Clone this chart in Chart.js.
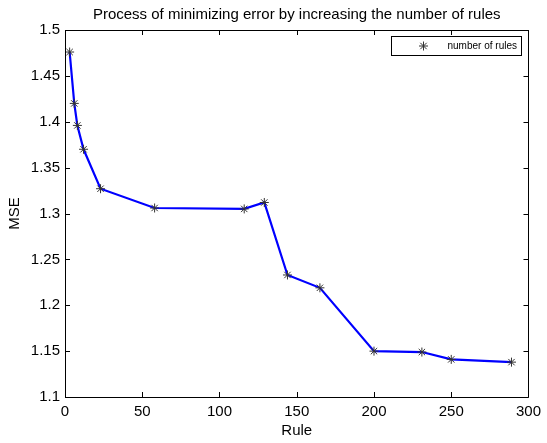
<!DOCTYPE html>
<html>
<head>
<meta charset="utf-8">
<script src="https://cdn.jsdelivr.net/npm/chart.js@4/dist/chart.umd.min.js"></script>
<style>
html,body{margin:0;padding:0;background:#fff;}
#wrap{width:547px;height:443px;}
</style>
</head>
<body>
<div id="wrap"><canvas id="c" width="547" height="443"></canvas></div>
<script>
// ---- data ----
const rules = [3, 6, 8, 12, 23, 58, 116, 129, 144, 165, 200, 231, 250, 289];
const mse   = [1.476, 1.420, 1.396, 1.370, 1.327, 1.306, 1.305, 1.312, 1.233, 1.219, 1.150, 1.149, 1.141, 1.138];
const xTicks = [0, 50, 100, 150, 200, 250, 300];
const yTicks = [1.1, 1.15, 1.2, 1.25, 1.3, 1.35, 1.4, 1.45, 1.5];
const titleText = 'Process of minimizing error by increasing the number of rules';
const xLabel = 'Rule';
const yLabel = 'MSE';
const seriesLabel = 'number of rules';

const FONT = 'Liberation Sans, Arial, Helvetica, sans-serif';
const points = rules.map((r, i) => ({x: r, y: mse[i]}));

const matlabAxes = {
  id: 'matlabAxes',
  afterDatasetsDraw(chart) {
    const {ctx, chartArea: a, scales: {x, y}} = chart;
    ctx.save();
    ctx.strokeStyle = '#000';
    ctx.lineWidth = 1;
    ctx.beginPath();
    ctx.rect(Math.round(a.left) + 0.5, Math.round(a.top) + 0.5,
             Math.round(a.right - a.left), Math.round(a.bottom - a.top));
    ctx.stroke();
    const tl = 5;
    ctx.beginPath();
    xTicks.forEach(v => {
      const px = Math.round(x.getPixelForValue(v)) + 0.5;
      ctx.moveTo(px, a.bottom); ctx.lineTo(px, a.bottom - tl);
      ctx.moveTo(px, a.top); ctx.lineTo(px, a.top + tl);
    });
    yTicks.forEach(v => {
      const py = Math.round(y.getPixelForValue(v)) + 0.5;
      ctx.moveTo(a.left, py); ctx.lineTo(a.left + tl, py);
      ctx.moveTo(a.right, py); ctx.lineTo(a.right - tl, py);
    });
    ctx.stroke();

    // legend box (top right inside axes)
    const bw = 130, bh = 19;
    const bx = Math.round(a.right - 7 - bw) + 0.5;
    const by = Math.round(a.top + 6) + 0.5;
    ctx.fillStyle = '#fff';
    ctx.fillRect(bx, by, bw, bh);
    ctx.strokeRect(bx, by, bw, bh);
    const ds = chart.data.datasets[0];
    const cy = by + bh / 2;
    const cx = bx + 32;
    ctx.strokeStyle = ds.pointBorderColor;
    ctx.lineWidth = ds.pointBorderWidth;
    ctx.beginPath();
    const r = ds.pointRadius;
    ctx.moveTo(cx - r, cy); ctx.lineTo(cx + r, cy);
    ctx.moveTo(cx, cy - r); ctx.lineTo(cx, cy + r);
    const d = r * Math.SQRT1_2;
    ctx.moveTo(cx - d, cy - d); ctx.lineTo(cx + d, cy + d);
    ctx.moveTo(cx - d, cy + d); ctx.lineTo(cx + d, cy - d);
    ctx.stroke();
    ctx.fillStyle = '#000';
    ctx.font = '10px ' + FONT;
    ctx.textBaseline = 'middle';
    ctx.textAlign = 'left';
    ctx.fillText(ds.label, bx + 56, cy + 0.5);
    ctx.restore();
  }
};

new Chart(document.getElementById('c'), {
  type: 'line',
  data: {
    datasets: [{
      label: seriesLabel,
      data: points,
      borderColor: '#0000ff',
      borderWidth: 2.2,
      backgroundColor: '#0000ff',
      tension: 0,
      fill: false,
      pointStyle: 'star',
      pointRadius: 4.5,
      pointHoverRadius: 4.5,
      pointBorderWidth: 1,
      pointBorderColor: '#333',
      pointBackgroundColor: '#333'
    }]
  },
  options: {
    responsive: false,
    animation: false,
    events: [],
    layout: {padding: {left: 0, right: 17, top: 0, bottom: 3}},
    plugins: {
      legend: {display: false},
      tooltip: {enabled: false},
      title: {
        display: true,
        text: titleText,
        fullSize: false,
        color: '#000',
        font: {family: FONT, size: 15, weight: 'normal', lineHeight: 1.2},
        padding: {top: 6, bottom: 6}
      }
    },
    scales: {
      x: {
        type: 'linear',
        min: 0, max: 300,
        afterFit(s) { s.height = 43; },
        afterBuildTicks(s) { s.ticks = xTicks.map(v => ({value: v})); },
        border: {display: false},
        grid: {display: false, drawTicks: false},
        ticks: {color: '#000', padding: 6, maxRotation: 0, autoSkip: false,
                font: {family: FONT, size: 15}},
        title: {display: true, text: xLabel, color: '#000',
                font: {family: FONT, size: 15}, padding: {top: 0, bottom: 0}}
      },
      y: {
        type: 'linear',
        min: 1.1, max: 1.5,
        afterFit(s) { s.width = 65; },
        afterBuildTicks(s) { s.ticks = yTicks.map(v => ({value: v})); },
        border: {display: false},
        grid: {display: false, drawTicks: false},
        ticks: {color: '#000', padding: 5, autoSkip: false,
                font: {family: FONT, size: 15},
                callback: v => String(Number(v.toFixed(2)))},
        title: {display: true, text: yLabel, color: '#000',
                font: {family: FONT, size: 15}, padding: {top: 6, bottom: 0}}
      }
    }
  },
  plugins: [matlabAxes]
});
</script>
</body>
</html>
